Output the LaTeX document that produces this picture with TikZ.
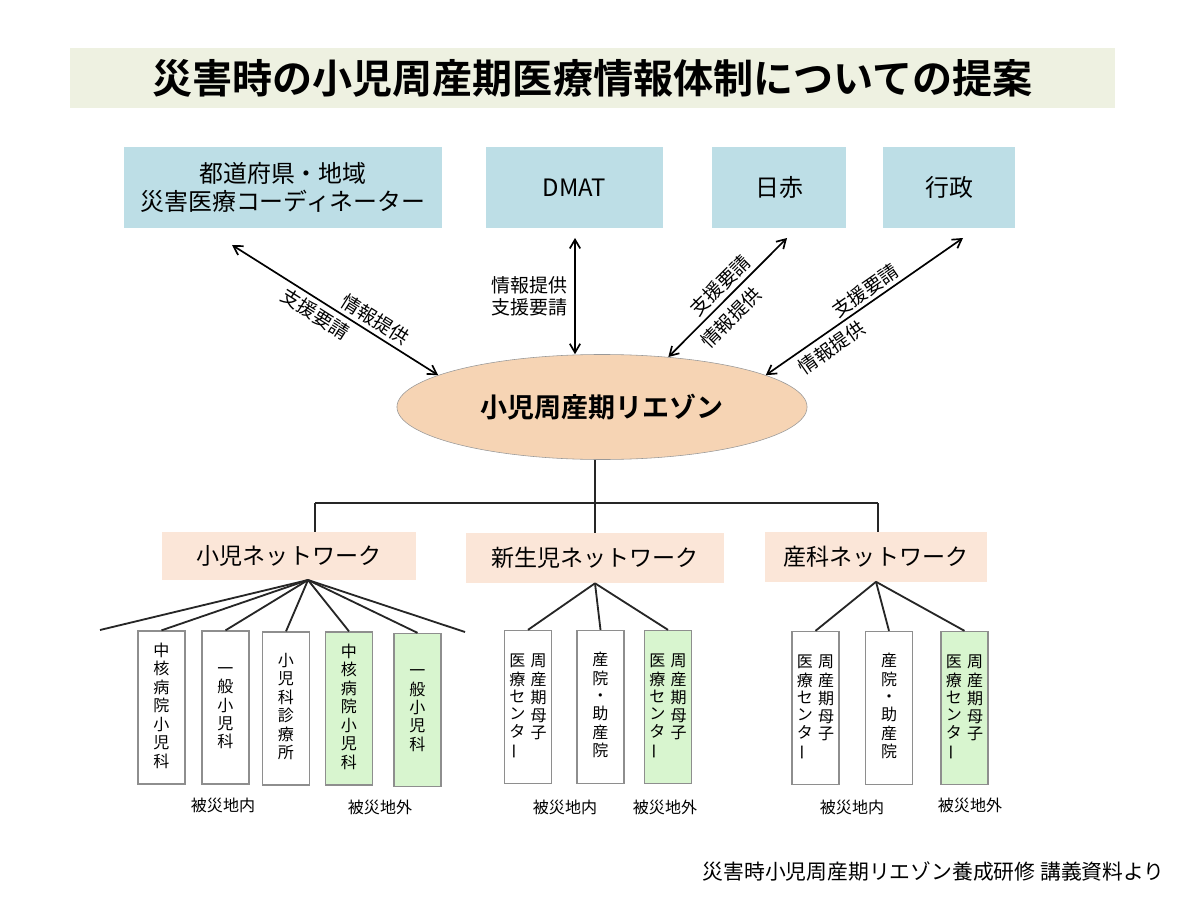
\documentclass[tikz,border=0pt]{standalone}
\usepackage{fontspec}
\usepackage{graphicx}
\usepackage{tikz}
\usetikzlibrary{positioning, arrows.meta, shapes.geometric}
\newfontfamily\jp{Noto Sans CJK JP}[BoldFont={Noto Sans CJK JP Bold}]
\definecolor{titlebg}{HTML}{EEF1E1}
\definecolor{topblue}{HTML}{BDDEE6}
\definecolor{liaisonfill}{HTML}{F6D4B4}
\definecolor{netfill}{HTML}{FBE6D8}
\definecolor{outgreen}{HTML}{D8F5CF}
\definecolor{boxline}{HTML}{8E8E8E}
\newcommand\tcol[1]{\begin{tabular}[t]{@{}c@{}}#1\end{tabular}}
\newcommand\vbar{\rotatebox[origin=c]{90}{ー}}

\begin{document}
\begin{tikzpicture}[x=0.025cm, y=-0.025cm,
    topbox/.style={fill=topblue, minimum height=2.025cm, align=center, font=\jp\fontsize{17}{19.9}\selectfont},
    netbox/.style={fill=netfill, font=\jp\fontsize{16.4}{19}\selectfont},
    unitbox/.style={draw=boxline, line width=0.9pt, fill=white, minimum width=1.175cm, minimum height=3.825cm, inner sep=0pt, font=\jp\fontsize{11.4}{12.1}\selectfont},
    outbox/.style={unitbox, fill=outgreen},
    arw/.style={{Straight Barb[length=2.2mm,width=2.6mm]}-{Straight Barb[length=2.2mm,width=2.6mm]}, line width=1.2pt},
    link/.style={line width=1.3pt, draw=black!85},
    lab/.style={inner sep=1pt, font=\jp\fontsize{13.5}{15.6}\selectfont},
    area/.style={font=\jp\fontsize{11.4}{13}\selectfont}]
    \useasboundingbox (0,0) rectangle (1200,898);

    \node (title) [fill=titlebg, minimum width=26.125cm, minimum height=1.5cm, font=\jp\bfseries\fontsize{28.5}{32}\selectfont] at (592.5,78) {災害時の小児周産期医療情報体制についての提案};

    % partners on top
    \node (coord) [topbox, minimum width=7.95cm] at (283,187.5) {都道府県・地域\\災害医療コーディネーター};
    \node (dmat) [topbox, minimum width=4.425cm] at (574.5,187.5) {DMAT};
    \node (jrc) [topbox, minimum width=3.325cm] at (779,187.5) {日赤};
    \node (gov) [topbox, minimum width=3.3cm] at (949,187.5) {行政};

    \node (liaison) [ellipse, draw=gray!80, fill=liaisonfill, minimum width=10.25cm, minimum height=2.625cm, inner sep=0pt, font=\jp\bfseries\fontsize{19.2}{22}\selectfont] at (602,407) {小児周産期リエゾン};

    \coordinate (c1) at (232,245);
    \coordinate (c2) at (575,238);
    \coordinate (c3) at (787,238);
    \coordinate (c4) at (963,238);
    \draw [arw] (c1) -- (liaison.169) node [lab, pos=.66, sloped, above=2pt] {情報提供} node [lab, pos=.44, sloped, below=2pt] {支援要請};
    \draw [arw] (c2 |- liaison.north) -- (c2) node [lab, midway, left=4pt, align=center] {情報提供\\支援要請};
    \draw [arw] (liaison.37) -- (c3) node [lab, pos=.52, sloped, above=2pt] {支援要請} node [lab, pos=.43, sloped, below=4pt] {情報提供};
    \draw [arw] (liaison.11) -- (c4) node [lab, pos=.54, sloped, above=1pt] {支援要請} node [lab, pos=.29, sloped, below=3pt] {情報提供};

    % networks
    \node (net1) [netbox, minimum width=6.325cm, minimum height=1.175cm] at (289,556) {小児ネットワーク};
    \node (net2) [netbox, minimum width=6.45cm, minimum height=1.25cm] at (595,558) {新生児ネットワーク};
    \node (net3) [netbox, minimum width=5.55cm, minimum height=1.225cm] at (876,557) {産科ネットワーク};
    \coordinate (j1) at (315,503);
    \coordinate (j3) at (878,503);
    \draw [link] (net2.north |- liaison.south) -- (net2.north);
    \draw [link] (j1) -- (j3);
    \draw [link] (j1) -- (j1 |- net1.north);
    \draw [link] (j3) -- (j3 |- net3.north);

    % pediatric units
    \node (p1) [unitbox] at (161.5,707.5) {\tcol{中\\核\\病\\院\\小\\児\\科}};
    \node (p2) [unitbox] at (225.5,707.5) {\tcol{一\\般\\小\\児\\科}};
    \node (p3) [unitbox] at (286,708.5) {\tcol{小\\児\\科\\診\\療\\所}};
    \node (p4) [outbox] at (349,708.5) {\tcol{中\\核\\病\\院\\小\\児\\科}};
    \node (p5) [outbox] at (417.5,710) {\tcol{一\\般\\小\\児\\科}};
    \coordinate (hub1) at (308,580);
    \coordinate (e1) at (100,630);
    \coordinate (e2) at (465,632);
    \foreach \u in {p1,p2,p3,p4,p5}
        \draw [link] (hub1) -- (\u.north);
    \draw [link] (hub1) -- (e1);
    \draw [link] (hub1) -- (e2);

    % neonatal units
    \node (n1) [unitbox] at (528,707) {\tcol{医\\療\\セ\\ン\\タ\\\vbar}\hspace{.125cm}\tcol{周\\産\\期\\母\\子}};
    \node (n2) [unitbox] at (600.5,707) {\tcol{産\\院\\・\\助\\産\\院}};
    \node (n3) [outbox] at (668,707) {\tcol{医\\療\\セ\\ン\\タ\\\vbar}\hspace{.125cm}\tcol{周\\産\\期\\母\\子}};
    \foreach \u in {n1,n2,n3}
        \draw [link] (net2.south) -- (\u.north);

    % obstetric units
    \node (o1) [unitbox] at (815.5,708) {\tcol{医\\療\\セ\\ン\\タ\\\vbar}\hspace{.125cm}\tcol{周\\産\\期\\母\\子}};
    \node (o2) [unitbox] at (889,708) {\tcol{産\\院\\・\\助\\産\\院}};
    \node (o3) [outbox] at (964.5,708) {\tcol{医\\療\\セ\\ン\\タ\\\vbar}\hspace{.125cm}\tcol{周\\産\\期\\母\\子}};
    \foreach \u in {o1,o2,o3}
        \draw [link] (net3.south) -- (\u.north);

    \node (in1) [area] at (223,805) {被災地内};
    \node (out1) [area] at (380,807) {被災地外};
    \node (in2) [area] at (565,807) {被災地内};
    \node (out2) [area] at (665,807) {被災地外};
    \node (in3) [area] at (852,807) {被災地内};
    \node (out3) [area] at (970,805) {被災地外};

    \node (src) [anchor=east, inner sep=0pt, font=\jp\fontsize{14.8}{16.5}\selectfont] at (1165,872) {災害時小児周産期リエゾン養成研修 講義資料より};
\end{tikzpicture}
\end{document}
